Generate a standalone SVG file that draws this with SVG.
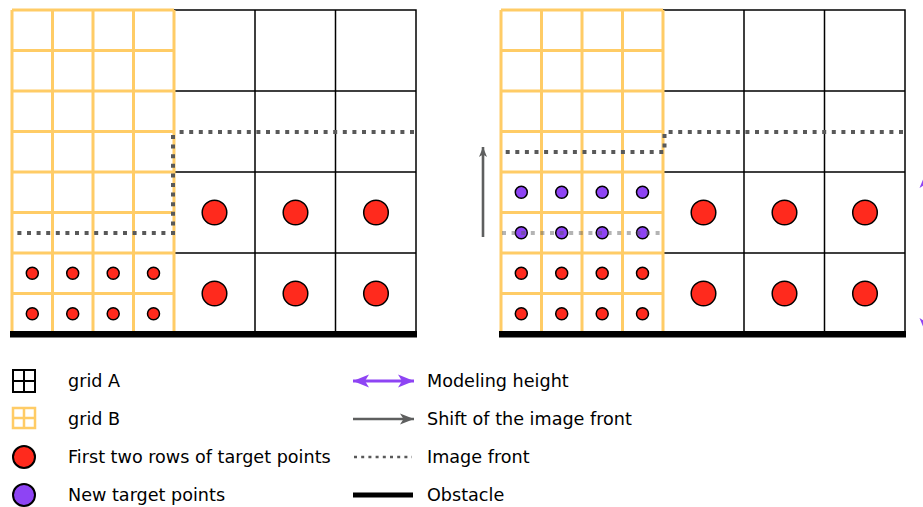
<svg xmlns="http://www.w3.org/2000/svg" width="923" height="507" viewBox="0 0 923 507">
<style>
.ga{fill:none;stroke:#000;stroke-width:1.5}
.gb{fill:none;stroke:#FFCC66;stroke-width:3}
.front{fill:none;stroke:#595959;stroke-width:4;stroke-dasharray:4 5.6}
.ghost{fill:none;stroke:#595959;stroke-width:4;stroke-dasharray:4 5.6;opacity:0.45}
.red{fill:#FF2A1D;stroke:#000;stroke-width:1.5}
.pur{fill:#8E44F4;stroke:#000;stroke-width:1.5}
.obs{fill:#000}
.txt{font-family:"DejaVu Sans","Liberation Sans",sans-serif;font-size:17.6px;fill:#000}
</style>
<defs>
<marker id="pHead" markerUnits="userSpaceOnUse" markerWidth="17" markerHeight="15" refX="16" refY="7.5" orient="auto-start-reverse" viewBox="0 0 17 15">
<path d="M16,7.5 L0,1 L4,7.5 L0,14 Z" fill="#8E44F4"/>
</marker>
<marker id="gHead" markerUnits="userSpaceOnUse" markerWidth="15" markerHeight="13" refX="14" refY="6.5" orient="auto" viewBox="0 0 15 13">
<path d="M14,6.5 L0,1 L3.5,6.5 L0,12 Z" fill="#5E5F5F"/>
</marker>
<marker id="gHeadS" markerUnits="userSpaceOnUse" markerWidth="11" markerHeight="10" refX="10" refY="5" orient="auto" viewBox="0 0 11 10">
<path d="M10,5 L0,1 L2.5,5 L0,9 Z" fill="#5E5F5F"/>
</marker>
<g id="gridA-cells">
<rect x="174" y="10" width="242" height="324" class="ga"/>
<path d="M255,10V334M335.5,10V334M174,91H416M174,172H416M174,253H416" class="ga"/>
</g>
<g id="gridB-cells">
<path d="M12,10V334M52.5,10V334M93,10V334M133.5,10V334M174,10V334M12,10H174M12,50.5H174M12,91H174M12,131.5H174M12,172H174M12,212.5H174M12,253H174M12,293.5H174M12,334H174" class="gb"/>
</g>
</defs>

<g id="left-panel">
<g id="left-gridA"><use href="#gridA-cells"/></g>
<g id="left-gridB"><use href="#gridB-cells"/></g>
<g id="left-big-points">
<circle cx="214.5" cy="212.5" r="12.3" class="red"/>
<circle cx="295.5" cy="212.5" r="12.3" class="red"/>
<circle cx="376" cy="212.5" r="12.3" class="red"/>
<circle cx="214.5" cy="293.5" r="12.3" class="red"/>
<circle cx="295.5" cy="293.5" r="12.3" class="red"/>
<circle cx="376" cy="293.5" r="12.3" class="red"/>
</g>
<g id="left-small-points">
<circle cx="32.3" cy="273.3" r="6" class="red"/>
<circle cx="72.7" cy="273.3" r="6" class="red"/>
<circle cx="113.2" cy="273.3" r="6" class="red"/>
<circle cx="153.5" cy="273.3" r="6" class="red"/>
<circle cx="32.3" cy="313.8" r="6" class="red"/>
<circle cx="72.7" cy="313.8" r="6" class="red"/>
<circle cx="113.2" cy="313.8" r="6" class="red"/>
<circle cx="153.5" cy="313.8" r="6" class="red"/>
</g>
<g id="left-obstacle"><rect x="10" y="331" width="407" height="6.5" class="obs"/></g>
</g>

<g id="right-panel">
<g id="right-gridA"><use href="#gridA-cells" x="489"/></g>
<g id="right-gridB"><use href="#gridB-cells" x="489"/></g>
<g id="right-big-points">
<circle cx="703.5" cy="212.5" r="12.3" class="red"/>
<circle cx="784.5" cy="212.5" r="12.3" class="red"/>
<circle cx="865" cy="212.5" r="12.3" class="red"/>
<circle cx="703.5" cy="293.5" r="12.3" class="red"/>
<circle cx="784.5" cy="293.5" r="12.3" class="red"/>
<circle cx="865" cy="293.5" r="12.3" class="red"/>
</g>
<g id="right-small-points">
<circle cx="521.3" cy="273.3" r="6" class="red"/>
<circle cx="561.7" cy="273.3" r="6" class="red"/>
<circle cx="602.2" cy="273.3" r="6" class="red"/>
<circle cx="642.5" cy="273.3" r="6" class="red"/>
<circle cx="521.3" cy="313.8" r="6" class="red"/>
<circle cx="561.7" cy="313.8" r="6" class="red"/>
<circle cx="602.2" cy="313.8" r="6" class="red"/>
<circle cx="642.5" cy="313.8" r="6" class="red"/>
</g>
<g id="right-new-points">
<circle cx="521.3" cy="192.3" r="6" class="pur"/>
<circle cx="561.7" cy="192.3" r="6" class="pur"/>
<circle cx="602.2" cy="192.3" r="6" class="pur"/>
<circle cx="642.5" cy="192.3" r="6" class="pur"/>
<circle cx="521.3" cy="232.8" r="6" class="pur"/>
<circle cx="561.7" cy="232.8" r="6" class="pur"/>
<circle cx="602.2" cy="232.8" r="6" class="pur"/>
<circle cx="642.5" cy="232.8" r="6" class="pur"/>
</g>
<g id="right-obstacle"><rect x="499" y="331" width="407" height="6.5" class="obs"/></g>
</g>

<g id="connectors">
<path d="M414,132H175M173,135V233H12" class="front"/>
<path d="M903,132H666M664.5,134V152H502" class="front"/>
<path d="M502,233H663" class="ghost"/>
<line x1="483" y1="237" x2="483" y2="147" stroke="#5E5F5F" stroke-width="2.6" marker-end="url(#gHeadS)"/>
<line x1="926" y1="172" x2="926" y2="334" stroke="#8E44F4" stroke-width="3" marker-start="url(#pHead)" marker-end="url(#pHead)"/>
</g>

<g id="legend">
<g id="legend-gridA">
<rect x="13" y="370" width="22" height="22" class="ga" style="stroke-width:2"/>
<path d="M24,370V392M13,381H35" class="ga" style="stroke-width:2"/>
<text x="68" y="387" class="txt">grid A</text>
</g>
<g id="legend-gridB">
<rect x="13" y="408" width="22" height="20" class="gb" style="stroke-width:2.5"/>
<path d="M24,408V428M13,418H35" class="gb" style="stroke-width:2.5"/>
<text x="68" y="425" class="txt">grid B</text>
</g>
<g id="legend-red">
<circle cx="24" cy="457" r="11" class="red" style="stroke-width:2"/>
<text x="68" y="463" class="txt">First two rows of target points</text>
</g>
<g id="legend-purple">
<circle cx="24" cy="495" r="11" class="pur" style="stroke-width:2"/>
<text x="68" y="501" class="txt">New target points</text>
</g>
<g id="legend-height">
<line x1="353" y1="381" x2="414" y2="381" stroke="#8E44F4" stroke-width="3" marker-start="url(#pHead)" marker-end="url(#pHead)"/>
<text x="427" y="387" class="txt">Modeling height</text>
</g>
<g id="legend-shift">
<line x1="353" y1="419" x2="414" y2="419" stroke="#5E5F5F" stroke-width="2.6" marker-end="url(#gHead)"/>
<text x="427" y="425" class="txt">Shift of the image front</text>
</g>
<g id="legend-front">
<line x1="354" y1="457" x2="412" y2="457" stroke="#595959" stroke-width="2.5" stroke-dasharray="3 4.2"/>
<text x="427" y="463" class="txt">Image front</text>
</g>
<g id="legend-obstacle">
<rect x="353" y="492.5" width="60" height="5" class="obs"/>
<text x="427" y="501" class="txt">Obstacle</text>
</g>
</g>
</svg>
